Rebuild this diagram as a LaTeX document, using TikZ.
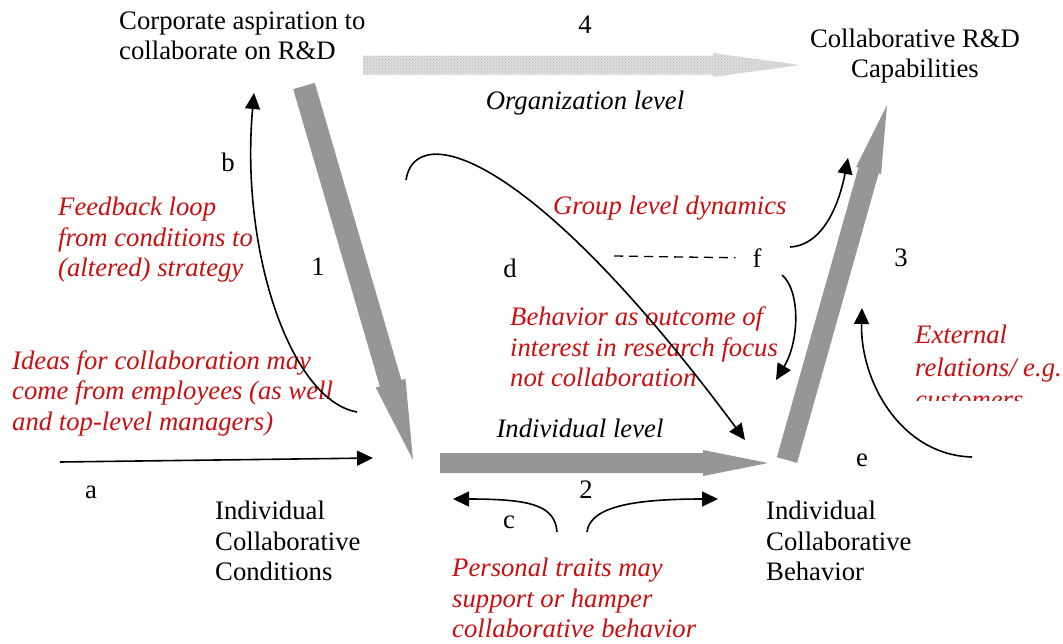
\documentclass[tikz,border=0pt]{standalone}
\usepackage{fontspec}
\setmainfont{Liberation Serif}
\usetikzlibrary{calc,arrows.meta,patterns}
\definecolor{dred}{RGB}{200,16,16}
\definecolor{bigg}{RGB}{150,150,150}
\definecolor{lightg}{RGB}{222,222,222}
\newcommand{\bigarrow}[6]{%
  \coordinate (H) at ($(#2)!#5!(#1)$);
  \fill[#6] ($(#1)!0.5*#3!90:(#2)$) -- ($(H)!0.5*#3!-90:(#1)$) -- ($(H)!0.5*#4!-90:(#1)$) -- (#2)
    -- ($(H)!0.5*#4!90:(#1)$) -- ($(H)!0.5*#3!90:(#1)$) -- ($(#1)!0.5*#3!-90:(#2)$) -- cycle;}
\tikzset{
  txt/.style={font=\fontsize{26.7}{30.5}\selectfont, inner sep=0pt, align=left},
  rtxt/.style={font=\fontsize{26.7}{30.5}\selectfont\itshape, text=dred, inner sep=0pt, align=left},
  itxt/.style={font=\fontsize{26.7}{30.5}\selectfont\itshape, inner sep=0pt},
  thin arrow/.style={line width=1.6pt, -{Triangle[length=16pt,width=15pt]}},
  texture/.style={pattern=crosshatch dots, pattern color=gray!60},
}
\begin{document}
\begin{tikzpicture}[x=1pt,y=-1pt]
\useasboundingbox (0,0) rectangle (1063,643);
% text nodes
\node[txt, anchor=west] (corp) at (119,36) {Corporate aspiration to\\collaborate on R\&D};
\node[txt] (n4) at (585,25) {4};
\node[itxt] (org) at (585,103) {Organization level};
\node[txt, align=center] (cap) at (915,56) {Collaborative R\&D\\Capabilities};
\node[txt] (b) at (228,162) {b};
\node[rtxt, anchor=west] (feed) at (58,240) {Feedback loop\\from conditions to\\(altered) strategy};
\node[txt] (n1) at (318,267) {1};
\node[txt] (d) at (510,268) {d};
\node[rtxt, anchor=west] (group) at (553,208) {Group level dynamics};
\node[txt] (f) at (757,258) {f};
\node[txt] (n3) at (901,258) {3};
\node[rtxt, anchor=west] (beh) at (510,347) {Behavior as outcome of\\interest in research focus\\not collaboration};
\begin{scope}
\clip (880,300) rectangle (1063,400);
\node[rtxt, anchor=west, font=\fontsize{26.7}{32.5}\selectfont\itshape] (ext) at (915,367) {External\\relations/ e.g.\\customers};
\end{scope}
\node[rtxt, anchor=west] (ideas) at (12,393) {Ideas for collaboration may\\come from employees (as well\\and top-level managers)};
\node[itxt] (ind) at (580,428) {Individual level};
\node[txt] (a) at (91,492) {a};
\node[txt] (e) at (862,460) {e};
\node[txt] (n2) at (586,490) {2};
\node[txt] (c) at (509,522) {c};
\node[txt, anchor=west] (cond) at (215,541) {Individual\\Collaborative\\Conditions};
\node[txt, anchor=west] (behav) at (766,541) {Individual\\Collaborative\\Behavior};
\node[rtxt, anchor=west] (pers) at (452,598) {Personal traits may\\support or hamper\\collaborative behavior};
% big arrows
\coordinate (a4s) at (363,65); \coordinate (a4e) at (800,65);
\bigarrow{a4s}{a4e}{19pt}{24pt}{87pt}{lightg}
\bigarrow{a4s}{a4e}{19pt}{24pt}{87pt}{texture}
\coordinate (a1s) at (304,86); \coordinate (a1e) at (413,460);
\bigarrow{a1s}{a1e}{22.5pt}{31pt}{80pt}{bigg}
\coordinate (a2s) at (440,463); \coordinate (a2e) at (768,463);
\bigarrow{a2s}{a2e}{20pt}{26pt}{65pt}{bigg}
\coordinate (a3s) at (787,460); \coordinate (a3e) at (887,105);
\bigarrow{a3s}{a3e}{21pt}{26pt}{68pt}{bigg}
% thin connectors
\coordinate (as) at (60,462); \coordinate (ae) at (373,458);
\draw[thin arrow] (as) -- (ae);
\coordinate (bs) at (357,412); \coordinate (be) at (254,93);
\draw[thin arrow] (bs) .. controls (290,400) and (240,250) .. (be);
\coordinate (cls) at (557,532); \coordinate (cle) at (453,499);
\draw[thin arrow] (cls) .. controls (555,505) and (530,499) .. (cle);
\coordinate (crs) at (587,532); \coordinate (cre) at (718,499);
\draw[thin arrow] (crs) .. controls (590,505) and (640,499) .. (cre);
\coordinate (ds) at (406,180); \coordinate (de) at (745,440);
\draw[thin arrow] (ds) .. controls (415,120) and (530,150) .. (de);
\coordinate (dash) at (614,256);
\draw[line width=1.3pt, dash pattern=on 9pt off 6pt, shorten >=17pt] (dash) -- (f.west);
\coordinate (fus) at (790,247); \coordinate (fue) at (848,158);
\draw[thin arrow] (fus) .. controls (825,245) and (840,200) .. (fue);
\coordinate (fds) at (782,275); \coordinate (fde) at (776,380);
\draw[thin arrow] (fds) .. controls (800,290) and (800,340) .. (fde);
\coordinate (es) at (972,457); \coordinate (ee) at (862,308);
\draw[thin arrow] (es) .. controls (900,455) and (860,380) .. (ee);
\end{tikzpicture}
\end{document}
